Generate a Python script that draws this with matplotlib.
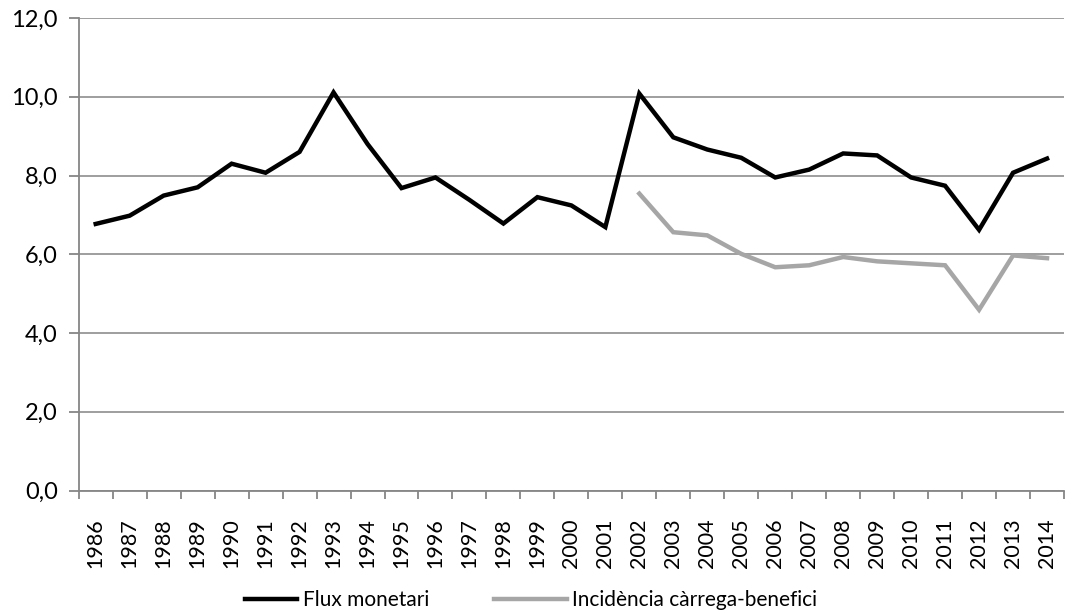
from matplotlib import pyplot as plt
from matplotlib.ticker import FuncFormatter
import numpy as np

# years and the two series
years = list(range(1986, 2015))

flux = [6.77, 6.98, 7.49, 7.70, 8.30, 8.07, 8.60, 10.11, 8.80, 7.68,
        7.95, 7.38, 6.78, 7.45, 7.24, 6.69, 10.08, 8.97, 8.66, 8.45,
        7.95, 8.15, 8.56, 8.51, 7.95, 7.74, 6.62, 8.07, 8.43]

incid_years = list(range(2002, 2015))
incid = [7.54, 6.56, 6.48, 6.01, 5.67, 5.72, 5.93, 5.82, 5.77, 5.72,
         4.59, 5.97, 5.90]

plt.rcParams['font.family'] = ['Lato', 'DejaVu Sans']

fig = plt.figure(figsize=(10.74, 6.14), dpi=100)
ax = fig.add_axes([0.0733, 0.2011, 0.9174, 0.7696])

x = np.arange(len(years))
xi = np.array([years.index(y) for y in incid_years])

l1, = ax.plot(x, flux, color="black", lw=3.2, label="Flux monetari", solid_joinstyle="miter")
l2, = ax.plot(xi, incid, color="#a6a6a6", lw=3.2, label="Incidència càrrega-benefici", solid_joinstyle="miter")

ax.set_ylim(0, 12)
ax.set_yticks(np.arange(0, 13, 2))
ax.yaxis.set_major_formatter(FuncFormatter(lambda v, p: f"{v:.1f}".replace(".", ",")))
ax.set_xlim(-0.5, len(years) - 0.5)
ax.set_xticks(x)
ax.set_xticklabels([str(y) for y in years], rotation=90)
ax.set_xticks(np.arange(-0.5, len(years)), minor=True)
ax.tick_params(axis="x", which="major", length=0, pad=20, labelsize=15.5)
ax.tick_params(axis="x", which="minor", length=6, width=1.3, color="#868686", direction="out")
ax.tick_params(axis="y", length=7, width=1.3, color="#868686", labelsize=17, pad=8)

ax.grid(axis="y", color="#969696", lw=1.3)
ax.set_axisbelow(True)
for s in ["top", "right"]:
    ax.spines[s].set_visible(False)
for s in ["left", "bottom"]:
    ax.spines[s].set_color("#868686")
    ax.spines[s].set_linewidth(1.3)

# two legend entries, placed separately like the original
leg1 = fig.legend([l1], ["Flux monetari"], loc="center left", bbox_to_anchor=(245 / 1074, 1 - 600 / 614),
                  frameon=False, fontsize=15, handlelength=2.5, handletextpad=0.3,
                  borderpad=0, borderaxespad=0)
leg2 = fig.legend([l2], ["Incidència càrrega-benefici"], loc="center left", bbox_to_anchor=(494 / 1074, 1 - 600 / 614),
                  frameon=False, fontsize=15, handlelength=3.5, handletextpad=0.25,
                  borderpad=0, borderaxespad=0)

plt.savefig("out.png", dpi=100)
